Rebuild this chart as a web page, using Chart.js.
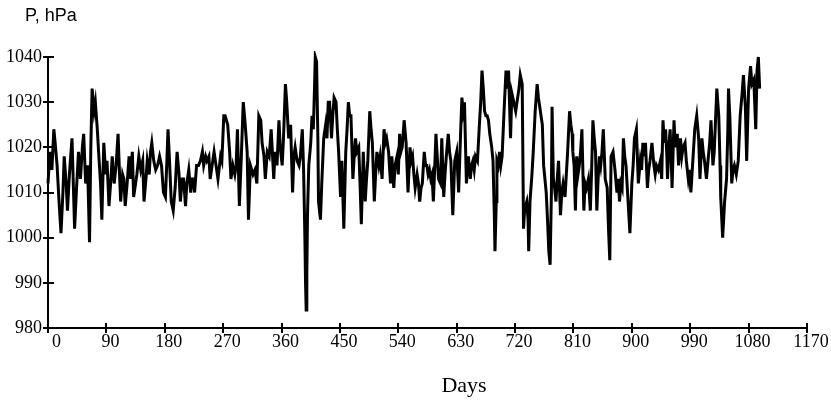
<!DOCTYPE html>
<html><head><meta charset="utf-8">
<script src="https://cdn.jsdelivr.net/npm/chart.js@4.4.1/dist/chart.umd.min.js"></script>
<style>html,body{margin:0;padding:0;background:#fff}#wrap{width:831px;height:403px;position:relative}</style>
</head><body><div id="wrap"><canvas id="c" width="831" height="403"></canvas></div>
<script>
const xTicks = [0,90,180,270,360,450,540,630,720,810,900,990,1080,1170];
const yTicks = [980,990,1000,1010,1020,1030,1040];
const yTitle = 'P, hPa';
const xTitle = 'Days';
// [day, pressure hPa]
const readings = [
[0,1012],[3,1019],[6,1015],[9,1024],[11,1021],[14,1016],[17,1008],[20,1001],[23,1010],[25,1018],[28,1012],[30,1006],[33,1014],[37,1022],[39,1012],[41,1002],[44,1011],[47,1019],[50,1013],[53,1020],[55,1023],[58,1012],[61,1016],[64,999],[66,1020],[68,1033],[71,1028],[73,1030],[76,1024],[78,1019],[81,1012],[83,1004],[86,1021],[89,1014],[91,1017],[94,1007],[97,1013],[99,1018],[102,1012],[105,1016],[108,1023],[110,1015],[112,1008],[115,1014],[117,1013],[119,1007],[122,1012],[125,1018],[127,1013],[130,1019],[132,1009],[135,1012],[137,1014],[140,1018],
[143,1015],[146,1017],[148,1008],[151,1013],[153,1017],[156,1014],
[158,1019],[160,1021],[163,1017],[166,1015],[169,1016],[172,1018],[175,1016],[178,1010],[181,1009],[183,1016],[185,1024],[187,1018],[190,1008],[193,1006],[196,1011],[199,1019],[202,1014],[204,1008],[207,1013],[209,1013],[212,1007],[214,1012],[217,1015],[220,1010],[222,1013],[224,1013],[226,1010],[229,1016],[232,1016],[235,1017],[238,1019],[240,1016],[243,1018],[245,1017],[248,1018],[250,1013],[253,1016],[256,1019],[259,1016],[262,1013],[266,1018],[268,1017],[271,1027],[273,1027],[275,1026],[277,1025],[280,1019],[282,1013],[285,1016],[288,1014],[290,1016],[292,1024],[295,1007],[298,1018],[301,1030],[304,1025],[307,1019],[309,1004],[312,1016],[316,1014],[319,1015],[322,1012],[325,1027],[328,1026],[330,1021],[333,1018],[335,1013],[338,1019],[341,1018],[344,1024],[348,1013],[350,1019],[353,1016],[356,1026],[358,1020],[361,1016],[363,1022],[366,1034],[368,1030],[371,1022],[374,1025],[375,1020],[377,1010],[379,1018],[381,1020],[384,1017],[387,1016],[389,1018],[392,1024],[394,1015],[396,1000],[397,990],[398,984],[399,992],[400,1005],[402,1016],[405,1021],[407,1027],[409,1024],[411,1034],[412,1040],[414,1039],[416,1022],[417,1008],[420,1004],[422,1012],[425,1022],[428,1025],[430,1022],[432,1030],[434,1030],
[436,1025],[437,1022],[439,1027],[441,1031],[444,1030],[446,1024],[448,1019],[451,1009],[453,1017],[456,1002],[459,1019],[461,1024],[463,1030],[465,1027],[467,1027],[470,1013],[472,1018],[474,1022],[476,1019],[479,1020],[481,1012],[483,1003],[486,1019],[489,1008],[491,1013],[493,1017],[496,1028],[498,1024],[500,1021],[503,1008],[505,1014],[507,1019],[510,1016],[512,1018],[515,1013],[518,1024],[520,1021],[522,1022],[525,1019],[528,1012],[530,1018],[533,1011],[535,1016],[538,1018],[540,1014],
[542,1023],[544,1019],[546,1020],[549,1026],[552,1021],[555,1010],[558,1020],[560,1017],[562,1018],[564,1014],[566,1011],[569,1014],[571,1012],[573,1008],[575,1011],[577,1012],[580,1019],[582,1016],[584,1016],[586,1014],[588,1015],[590,1013],[592,1014],[594,1008],[596,1015],[598,1023],[600,1018],[602,1013],[605,1012],[607,1022],[610,1009],[612,1014],[614,1018],[617,1023],[619,1019],[621,1017],[624,1005],[627,1017],[630,1019],[633,1010],[636,1023],[638,1031],[640,1028],[642,1030],[645,1012],[648,1018],[651,1013],[653,1016],[655,1017],[657,1015],[659,1018],[662,1017],[665,1025],[667,1030],[669,1037],[671,1033],[673,1028],[675,1027],[677,1027],[679,1026],[681,1023],
[684,1020],[686,1017],[688,1005],[689,997],[691,1008],[692,1017],[694,1016],[696,1019],[698,1016],[700,1018],[703,1028],[706,1037],[708,1033],[710,1037],[713,1022],[715,1032],[718,1030],[721,1028],[724,1031],[726,1033],[728,1036],[731,1034],[733,1002],[735,1007],[736,1007],[738,1008],[740,1004],[741,997],[743,1008],[746,1014],[748,1019],[751,1028],[754,1034],[756,1031],[758,1029],[760,1027],[762,1025],[764,1016],[766,1013],[768,1010],[770,1004],[772,997],[774,994],[776,1010],[777,1029],[779,1013],[781,1011],[783,1008],[785,1013],[787,1017],[790,1005],[792,1010],[794,1012],[797,1009],[799,1014],[801,1019],[804,1028],[806,1025],[808,1023],[809,1019],[811,1016],
[813,1006],[815,1018],[817,1014],[819,1016],[821,1019],[823,1024],[826,1006],[828,1012],[830,1011],[833,1013],[836,1006],[838,1015],[840,1026],[842,1022],[844,1019],[846,1006],[848,1013],[850,1018],[852,1016],[854,1019],[856,1024],[859,1013],[862,1011],[864,1002],[866,995],[868,1018],[871,1019],[874,1015],[877,1010],[879,1013],[881,1008],[883,1012],[885,1011],[887,1022],[889,1018],[891,1016],[893,1011],[895,1006],[897,1001],[900,1012],[902,1016],[904,1022],[907,1024],[910,1012],[913,1017],[915,1015],[917,1021],[919,1018],[921,1021],[924,1011],[926,1015],[928,1017],[931,1021],[934,1016],[936,1014],[938,1016],[941,1015],[944,1017],[946,1013],
[948,1026],[950,1021],[952,1024],[954,1018],[955,1013],[957,1020],[959,1024],[961,1016],[962,1011],[965,1026],[967,1020],[970,1023],[972,1016],[975,1022],[977,1018],[979,1020],[982,1021],[984,1017],[987,1013],[989,1015],[991,1010],[994,1017],[997,1024],[1000,1027],[1003,1022],[1005,1013],[1008,1022],[1010,1019],[1012,1017],[1015,1013],[1018,1018],[1020,1021],[1022,1026],[1025,1016],[1027,1019],[1029,1026],[1031,1033],[1034,1027],[1036,1016],[1037,1009],[1039,1003],[1040,1000],[1043,1008],[1046,1013],[1048,1024],[1049,1033],[1051,1027],[1054,1012],[1056,1015],[1058,1016],[1061,1014],[1064,1017],[1067,1027],[1070,1032],[1072,1036],[1075,1029],[1077,1017],[1080,1033],[1083,1038],[1085,1034],[1088,1035],[1091,1024],[1093,1037],[1095,1040],[1097,1033]
];
const days = readings.map(r => r[0]);
const pressure = readings.map(r => r[1]);

const AREA = {left: 48, right: 807, top: 57, bottom: 328};

const extras = {
  id: 'extras',
  afterDraw(chart) {
    const ctx = chart.ctx, xs = chart.scales.x, ys = chart.scales.y;
    const a = chart.chartArea;
    ctx.save();
    ctx.strokeStyle = '#000';
    ctx.lineWidth = 2;
    ctx.beginPath();
    ctx.moveTo(a.left, ys.getPixelForValue(yTicks[yTicks.length-1]));
    ctx.lineTo(a.left, a.bottom + 5);
    ctx.moveTo(a.left, a.bottom);
    ctx.lineTo(xs.getPixelForValue(xTicks[xTicks.length-1]), a.bottom);
    yTicks.forEach(v => { const p = Math.round(ys.getPixelForValue(v)); ctx.moveTo(a.left - 5, p); ctx.lineTo(a.left + 6, p); });
    xTicks.forEach(v => { const p = Math.round(xs.getPixelForValue(v)); ctx.moveTo(p, a.bottom - 5); ctx.lineTo(p, a.bottom + 5); });
    ctx.stroke();
    ctx.fillStyle = '#000';
    ctx.font = '18px "Liberation Sans", Arial, sans-serif';
    ctx.textAlign = 'left';
    ctx.textBaseline = 'alphabetic';
    ctx.fillText(yTitle, 25, 21);
    ctx.font = '22px "Liberation Serif", "Times New Roman", serif';
    ctx.textAlign = 'center';
    ctx.fillText(xTitle, 464, 392);
    ctx.restore();
  }
};

new Chart(document.getElementById('c'), {
  type: 'line',
  data: {
    datasets: [{
      data: days.map((d, i) => ({x: d, y: pressure[i]})),
      borderColor: '#000',
      borderWidth: 3,
      pointRadius: 0,
      tension: 0,
      fill: false,
      clip: 6
    }]
  },
  options: {
    responsive: false,
    animation: false,
    events: [],
    layout: {padding: {left: 0, right: 831 - AREA.right, top: AREA.top, bottom: 0}},
    plugins: {legend: {display: false}, tooltip: {enabled: false}, title: {display: false}},
    scales: {
      x: {
        type: 'linear', min: 0, max: 1170,
        afterBuildTicks: s => { s.ticks = xTicks.map(v => ({value: v})); },
        afterFit: s => { s.height = 403 - AREA.bottom; },
        grid: {display: false, drawTicks: false},
        border: {display: false},
        ticks: {
          color: '#000', padding: 3, labelOffset: 4, maxRotation: 0, autoSkip: false,
          font: {family: '"Liberation Serif", "Times New Roman", serif', size: 18},
          callback: v => v === 0 ? '\u20020' : String(v)
        }
      },
      y: {
        type: 'linear', min: 980, max: 1040,
        afterBuildTicks: s => { s.ticks = yTicks.map(v => ({value: v})); },
        afterFit: s => { s.width = AREA.left; },
        grid: {display: false, drawTicks: false},
        border: {display: false},
        ticks: {
          color: '#000', padding: 6,
          font: {family: '"Liberation Serif", "Times New Roman", serif', size: 18},
          callback: v => String(v)
        }
      }
    }
  },
  plugins: [extras]
});
</script>
</body></html>
